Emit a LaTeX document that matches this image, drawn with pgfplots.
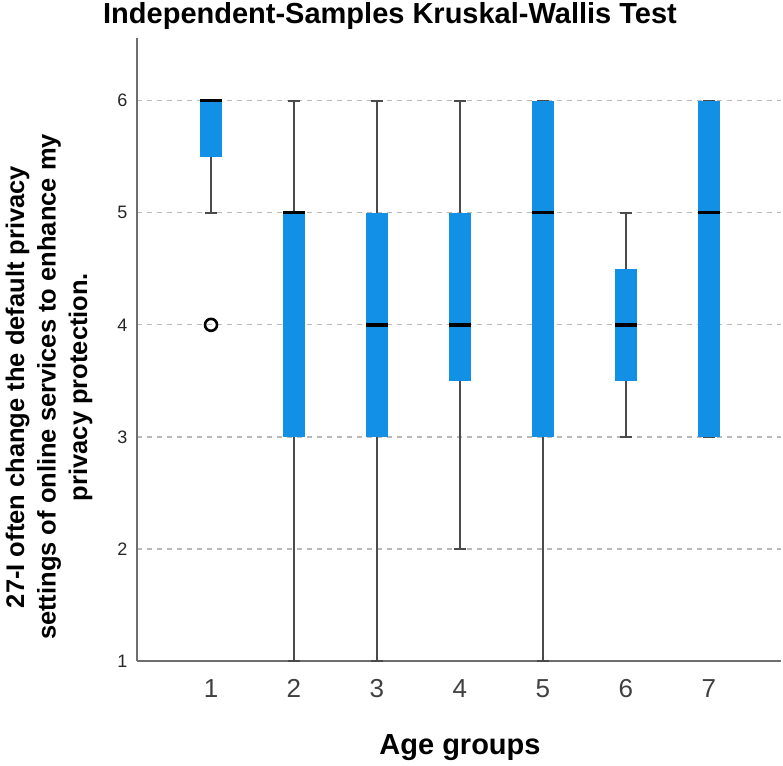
\documentclass[border=0pt]{standalone}
\usepackage{pgfplots}
\pgfplotsset{compat=1.18}
\usepgfplotslibrary{statistics}
\usepackage{fontspec}
\setmainfont{Liberation Sans}
\definecolor{boxblue}{RGB}{18,144,230}
\definecolor{axgray}{RGB}{110,110,110}
\definecolor{gridgray}{RGB}{185,185,185}
\definecolor{whisk}{RGB}{75,75,75}
\begin{document}
\begin{tikzpicture}
\path[use as bounding box] (-137pt,-104pt) rectangle (646pt,661pt);
\begin{axis}[
  at={(0pt,0pt)}, anchor=south west,
  scale only axis, width=644pt, height=623pt,
  xmin=0.108, xmax=7.87, ymin=1, ymax=6.56,
  axis x line*=bottom, axis y line*=left,
  axis line style={-, axgray, line width=1.6pt},
  xtick={1,...,7}, ytick={1,...,6},
  major tick length=0pt,
  ymajorgrids,
  major grid style={gridgray, line width=1.3pt, dash pattern=on 5pt off 5pt},
  x tick label style={font=\fontsize{26}{30}\selectfont, text=black!75, yshift=-15pt},
  y tick label style={font=\fontsize{18}{22}\selectfont, text=black!85, xshift=-6pt},
  /pgf/number format/assume math mode=true,
  boxplot/draw direction=y,
  boxplot/box extend=0.26,
  boxplot/whisker extend=0.145,
  boxplot/every box/.style={draw=none, fill=boxblue},
  boxplot/every whisker/.style={draw=whisk, line width=1.9pt},
  boxplot/every median/.style={draw=black, line width=3.4pt},
  clip=false,
]
\addplot[black, mark=o, mark size=6pt, mark options={black, line width=2.6pt},
  boxplot prepared={draw position=1, lower whisker=5, lower quartile=5.5, median=6, upper quartile=6, upper whisker=6}]
  table[row sep=\\, y index=0] {4\\};
\addplot[black, boxplot prepared={draw position=2, lower whisker=1, lower quartile=3, median=5, upper quartile=5, upper whisker=6}]
  coordinates {};
\addplot[black, boxplot prepared={draw position=3, lower whisker=1, lower quartile=3, median=4, upper quartile=5, upper whisker=6}]
  coordinates {};
\addplot[black, boxplot prepared={draw position=4, lower whisker=2, lower quartile=3.5, median=4, upper quartile=5, upper whisker=6}]
  coordinates {};
\addplot[black, boxplot prepared={draw position=5, lower whisker=1, lower quartile=3, median=5, upper quartile=6, upper whisker=6}]
  coordinates {};
\addplot[black, boxplot prepared={draw position=6, lower whisker=3, lower quartile=3.5, median=4, upper quartile=4.5, upper whisker=5}]
  coordinates {};
\addplot[black, boxplot prepared={draw position=7, lower whisker=3, lower quartile=3, median=5, upper quartile=6, upper whisker=6}]
  coordinates {};
\end{axis}
\node[font=\fontsize{29}{33}\selectfont\bfseries] at (253pt,645pt) {Independent-Samples Kruskal-Wallis Test};
\node[font=\fontsize{29}{33}\selectfont\bfseries] at (323pt,-87pt) {Age groups};
\node[rotate=90, align=center, font=\fontsize{25.5}{31.5}\selectfont\bfseries] at (-88pt,274pt)
  {27-I often change the default privacy\\settings of online services to enhance my\\privacy protection.};
\end{tikzpicture}
\end{document}
